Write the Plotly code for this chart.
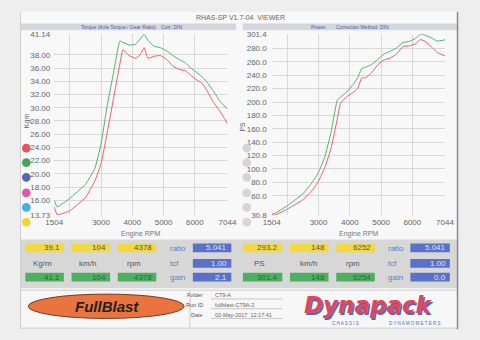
import plotly.graph_objects as go

# ---------------- data ----------------
rpm = [1504, 1600, 2000, 2500, 2800, 3000, 3200, 3400, 3600, 3700, 3900, 4100, 4250,
       4378, 4500, 4700, 4900, 5100, 5300, 5500, 5700, 5900, 6100, 6254, 6400, 6600,
       6800, 7044]

torque_green = [16.0, 15.0, 16.3, 18.4, 20.8, 24.5, 30.4, 35.3, 40.1, 39.9, 39.5, 39.6,
                40.4, 41.1, 40.2, 39.3, 39.1, 38.6, 37.9, 37.3, 36.8, 35.9, 35.2, 34.6,
                33.8, 32.5, 31.0, 29.8]
torque_red = [15.0, 13.8, 14.4, 16.4, 18.9, 21.5, 26.3, 31.4, 36.6, 38.8, 37.9, 37.5,
              38.0, 39.1, 37.5, 37.8, 37.9, 37.3, 36.3, 35.8, 35.6, 34.8, 34.1, 33.6,
              32.5, 30.8, 29.5, 27.6]

power_green = [32.3, 33.5, 45.0, 63.0, 80.0, 95.0, 118.0, 155.0, 203.0, 207.0, 215.0,
               226.0, 236.0, 250.0, 252.0, 256.0, 264.0, 272.0, 276.0, 281.0, 289.0,
               290.5, 295.0, 301.4, 300.0, 296.0, 291.0, 293.0]
power_red = [31.5, 31.0, 40.0, 54.0, 68.0, 82.0, 102.0, 131.0, 175.0, 198.0, 208.0,
             214.0, 220.0, 236.0, 236.0, 244.0, 256.0, 263.0, 266.0, 272.0, 283.0,
             284.0, 287.0, 293.2, 291.0, 283.0, 274.0, 269.0]

x_ticks = [1504, 2000, 3000, 4000, 5000, 6000, 7044]
x_ticktext = ["1504", "", "3000", "4000", "5000", "6000", "7044"]
torque_ticks = [13.73, 16, 18, 20, 22, 24, 26, 28, 30, 32, 34, 36, 38, 41.14]
power_ticks = [30.8, 60, 80, 100, 120, 140, 160, 180, 200, 220, 240, 260, 280, 301.4]

left_yellow = ["39.1", "104", "4378"]
left_green = ["41.1", "104", "4378"]
left_blue = ["5.041", "1.00", "2.1"]
right_yellow = ["293.2", "148", "6252"]
right_green = ["301.4", "148", "6254"]
right_blue = ["5.041", "1.00", "0.0"]
left_units = ["Kg/m", "km/h", "rpm"]
right_units = ["PS", "km/h", "rpm"]
blue_labels = ["ratio", "tcf", "gain"]
dot_colors = ["#e8555f", "#3fa45c", "#5566b4", "#e059a8", "#3db4e4", "#f2d43a"]

W, H = 480, 340
def px(x): return x / W
def py(y): return 1 - y / H

GREEN = "#4fb26e"
RED = "#e8606e"
fig = go.Figure()
for xs, ys, col, xa, ya in [(rpm, torque_green, GREEN, "x", "y"),
                            (rpm, torque_red, RED, "x", "y"),
                            (rpm, power_green, GREEN, "x2", "y2"),
                            (rpm, power_red, RED, "x2", "y2")]:
    fig.add_trace(go.Scatter(x=xs, y=ys, mode="lines",
                             line=dict(color=col, width=1, shape="spline", smoothing=0.35),
                             xaxis=xa, yaxis=ya, hoverinfo="skip"))

TF = dict(family="Liberation Sans, Arial", size=8, color="#666666")
axis_common = dict(showline=False, zeroline=False, gridcolor="#d9d9d9", gridwidth=1,
                   ticks="", tickfont=TF, fixedrange=True)
ydom = [py(217), py(31)]
fig.update_layout(
    width=W, height=H, margin=dict(l=0, r=0, t=0, b=0),
    paper_bgcolor="#eeeeee", plot_bgcolor="rgba(0,0,0,0)", showlegend=False,
    xaxis=dict(domain=[px(47), px(227)], range=[1504, 7044], tickvals=x_ticks,
               ticktext=x_ticktext, anchor="y", ticklabelstandoff=1, **axis_common),
    yaxis=dict(domain=ydom, range=[13.73, 41.14], tickvals=torque_ticks,
               ticktext=[f"{v:.2f}" for v in torque_ticks], anchor="x",
               ticklabelstandoff=3, **axis_common),
    xaxis2=dict(domain=[px(273), px(453)], range=[1504, 7044], tickvals=x_ticks,
                ticktext=x_ticktext, anchor="y2", ticklabelstandoff=1, **axis_common),
    yaxis2=dict(domain=ydom, range=[30.8, 301.4], tickvals=power_ticks,
                ticktext=[f"{v:.1f}" for v in power_ticks], anchor="x2",
                ticklabelstandoff=4, **axis_common),
)

shapes = []
def rect(x0, y0, x1, y1, fill, line=None, lw=0, layer="below"):
    shapes.append(dict(type="rect", xref="paper", yref="paper", x0=px(x0), x1=px(x1),
                       y0=py(y1), y1=py(y0), fillcolor=fill, layer=layer,
                       line=dict(color=line or fill, width=lw)))
def circ(cx, cy, r, fill, line=None, lw=0, rx=None):
    rx = rx or r
    shapes.append(dict(type="circle", xref="paper", yref="paper", x0=px(cx - rx), x1=px(cx + rx),
                       y0=py(cy + r), y1=py(cy - r), fillcolor=fill, layer="above",
                       line=dict(color=line or fill, width=lw)))
def hline(x0, x1, y, color, w=1):
    shapes.append(dict(type="line", xref="paper", yref="paper", x0=px(x0), x1=px(x1),
                       y0=py(y), y1=py(y), line=dict(color=color, width=w), layer="above"))
def vline(x, y0, y1, color, w=1):
    shapes.append(dict(type="line", xref="paper", yref="paper", x0=px(x), x1=px(x),
                       y0=py(y0), y1=py(y1), line=dict(color=color, width=w), layer="above"))

# page frame
rect(12, 8, 466, 334, "#f8f8f8")
vline(12, 8, 334, "#cfcfcf")
vline(466, 8, 334, "#8a8a8a", 1.5)
# header bars
rect(12, 20, 236, 27, "#d6d6de")
rect(243, 20, 466, 27, "#d6d6de")
# data panel
rect(12, 242, 466, 292, "#d7d7d7")
# bottom info panel
rect(12, 294, 466, 333, "#f7f7f7", line="#cccccc", lw=1)
vline(188, 294, 333, "#cccccc")
for yy in (303, 313, 323):
    hline(210, 284, yy, "#bbbbbb", 0.8)

# boxes
box_x_left = [(17, 57), (65, 105), (113, 153)]
box_x_right = [(243, 284), (292, 332), (340, 380)]
unit_cx_left = [35, 82, 130]
unit_cx_right = [260, 311, 357]
rows_y = [(246, 255), (262, 271), (276, 285)]
YEL, GRN, BLU = "#f3d845", "#4fae62", "#5b70c8"
for (a, b) in box_x_left + box_x_right:
    rect(a, 246, b, 255, YEL, layer="above")
    rect(a, 276, b, 285, GRN, layer="above")
for (a, b) in [(191, 231), (417, 458)]:
    for (t, u) in rows_y:
        rect(a, t, b, u, BLU, layer="above")

# legend dots
dot_y = [148, 163, 178, 194, 209, 224]
for c, yy in zip(dot_colors, dot_y):
    circ(18, yy, 4.5, c)
    circ(247, yy, 4.5, "#d5d5d5")

# logo ellipse
circ(101, 310.5, 12.5, "#ea7440", line="#7a3a20", lw=1, rx=81)

fig.update_layout(shapes=shapes)

ann = []
def text(x, y, s, size=8, color="#555555", xanchor="center", family="Liberation Sans, Arial",
         angle=0, bold=False, italic=False, shadow=None):
    font = dict(size=size, color=color, family=family)
    if bold:
        font["weight"] = "bold"
    if italic:
        font["style"] = "italic"
    if shadow:
        font["shadow"] = shadow
    ann.append(dict(x=px(x), y=py(y), xref="paper", yref="paper", text=s, showarrow=False,
                    xanchor=xanchor, yanchor="middle", textangle=angle, font=font))

text(240, 14, "RHAS-SP V1.7-04  VIEWER", 7, "#666666")
text(73, 23.5, "Torque (Axle Torque / Gear Ratio)", 5, "#4a5cb8", xanchor="left")
text(156, 23.5, "Corr: DIN", 5, "#4a5cb8", xanchor="left")
text(312, 23.5, "Power:", 5, "#4a5cb8", xanchor="left")
text(338, 23.5, "Correction Method: DIN", 5, "#4a5cb8", xanchor="left")
text(137, 236, "Engine RPM", 7, "#777777")
text(363, 236, "Engine RPM", 7, "#777777")
text(18, 120, "Kgm", 7, "#666666", angle=-90)
text(243, 126, "PS", 7, "#666666", angle=-90)

for (a, b), v in zip(box_x_left, left_yellow):
    text(b - 2, 250.5, v, 8, "#555555", xanchor="right")
for (a, b), v in zip(box_x_left, left_green):
    text(b - 2, 280.5, v, 8, "#2e6a3a", xanchor="right")
for (a, b), v in zip(box_x_right, right_yellow):
    text(b - 2, 250.5, v, 8, "#555555", xanchor="right")
for (a, b), v in zip(box_x_right, right_green):
    text(b - 2, 280.5, v, 8, "#2e6a3a", xanchor="right")
for (t, u), v in zip(rows_y, left_blue):
    text(229, (t + u) / 2, v, 8, "#dfe4f7", xanchor="right")
for (t, u), v in zip(rows_y, right_blue):
    text(456, (t + u) / 2, v, 8, "#dfe4f7", xanchor="right")
for cx, u in zip(unit_cx_left, left_units):
    text(cx, 266.5, u, 8, "#555555")
for cx, u in zip(unit_cx_right, right_units):
    text(cx, 266.5, u, 8, "#555555")
for (t, u), lab in zip(rows_y, blue_labels):
    text(165, (t + u) / 2 + 0.5, lab, 8, "#6a78c4", xanchor="left")
    text(392, (t + u) / 2 + 0.5, lab, 8, "#6a78c4", xanchor="left")

# info block
text(204, 299, "Folder", 5.5, "#555555", xanchor="right")
text(204, 309, "Run ID", 5.5, "#555555", xanchor="right")
text(204, 319, "Date", 5.5, "#555555", xanchor="right")
text(212, 299, "CT9-A", 5.5, "#666666", xanchor="left")
text(212, 309, "fullblast-CT9A-2", 5.5, "#666666", xanchor="left")
text(212, 319, "02-May-2017  12:17:41", 5.5, "#666666", xanchor="left")

# logos
text(102, 311, "FullBlast", 15, "#222222", bold=True, italic=True)
text(374, 309, "Dynapack", 23, "#e0465a", family="DejaVu Sans", bold=True, italic=True,
     shadow="1.5px 1.5px 0px #4a6ac8")
text(350, 328, "C H A S S I S", 4.5, "#4a6ac8")
text(421, 328, "D Y N A M O M E T E R S", 4.5, "#4a6ac8")

fig.update_layout(annotations=ann)
fig.write_html("out.html")
